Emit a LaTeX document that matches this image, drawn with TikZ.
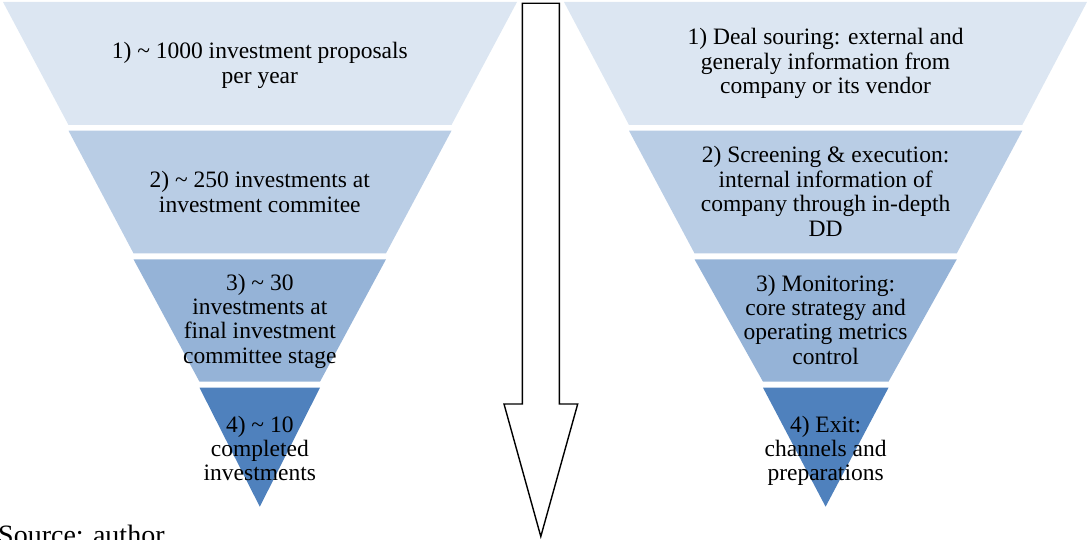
\documentclass[tikz,border=0pt]{standalone}
\usepackage{fontspec}
\setmainfont{Liberation Serif}
\newcommand\mylines[1]{\vtop{\halign{\hfil##\hfil\cr#1\crcr}}}
\definecolor{lvA}{HTML}{DCE6F2}
\definecolor{lvB}{HTML}{B9CDE5}
\definecolor{lvC}{HTML}{95B3D7}
\definecolor{lvD}{HTML}{4F81BD}
\tikzset{
  lbl/.style={anchor=base, inner sep=0pt, text=black, font=\fontsize{23.5}{24.4}\selectfont},
  arrowshape/.style={draw=black, fill=white, line width=1.4pt, line join=miter},
}
\begin{document}
\begin{tikzpicture}[x=1pt, y=-1pt]
\useasboundingbox (0,0) rectangle (1087,540);
% left funnel
\fill[lvA] (3,2) -- (517,2) -- (451.5,125) -- (68.5,125) -- cycle;
\fill[lvB] (68.5,130.7) -- (451.5,130.7) -- (386,253.3) -- (133.5,253.3) -- cycle;
\fill[lvC] (133.5,259.3) -- (386,259.3) -- (320,381.7) -- (199.5,381.7) -- cycle;
\fill[lvD] (199.5,387.7) -- (320,387.7) -- (259.8,506.7) -- cycle;
% right funnel
\fill[lvA] (564,2) -- (1087,2) -- (1022.3,125) -- (629,125) -- cycle;
\fill[lvB] (629,130.7) -- (1022.3,130.7) -- (956.8,253.3) -- (694.5,253.3) -- cycle;
\fill[lvC] (694.5,259.3) -- (956.8,259.3) -- (888.5,381.7) -- (763,381.7) -- cycle;
\fill[lvD] (763,387.7) -- (888.5,387.7) -- (825.6,506.7) -- cycle;
% arrow
\draw[arrowshape] (522.3,3.3) -- (559.3,3.3) -- (559.3,404) -- (577.7,404) -- (540.8,536.5) -- (504,404) -- (522.3,404) -- cycle;
% left labels
\node[lbl] (l1) at (259.8,59) {\mylines{1) \textasciitilde{} 1000 investment proposals\cr per year}};
\node[lbl] (l2) at (259.8,188) {\mylines{2) \textasciitilde{} 250 investments at\cr investment commitee}};
\node[lbl] (l3) at (259.8,290) {\mylines{3) \textasciitilde{} 30\cr investments at\cr final investment\cr committee stage}};
\node[lbl] (l4) at (259.8,432) {\mylines{4) \textasciitilde{} 10\cr completed\cr investments}};
% right labels
\node[lbl] (r1) at (825.6,45) {\mylines{1) Deal souring: external and\cr generaly information from\cr company or its vendor}};
\node[lbl] (r2) at (825.6,163) {\mylines{2) Screening \& execution:\cr internal information of\cr company through in-depth\cr DD}};
\node[lbl] (r3) at (825.6,291) {\mylines{3) Monitoring:\cr core strategy and\cr operating metrics\cr control}};
\node[lbl] (r4) at (825.6,432) {\mylines{4) Exit:\cr channels and\cr preparations}};
% source
\node[anchor=base west, inner sep=0pt, font=\fontsize{28}{30}\selectfont] (src) at (-2,544) {Source: author};
\end{tikzpicture}
\end{document}
